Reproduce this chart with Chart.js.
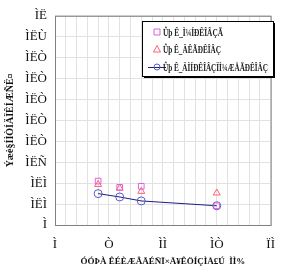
<!DOCTYPE html>
<html>
<head>
<meta charset="utf-8">
<script src="https://cdn.jsdelivr.net/npm/chart.js@4"></script>
<style>
  body { margin: 0; background: #fff; }
</style>
</head>
<body>
<canvas id="chart" width="287" height="268"></canvas>
<script>
// data (labels are shown garbled in the original, kept as is)
const xValues = [4, 6, 8, 15];
const seriesA = [0.21, 0.18, 0.185, 0.092];    // squares
const seriesB = [0.194, 0.176, 0.161, 0.153];  // triangles
const seriesC = [0.150, 0.134, 0.115, 0.092];  // circles + line
const seriesNames = ['Ûþ Ê_Ì¼ÍÐÊÎÂÇÃ', 'Ûþ Ê_ÄÊÃÐÊÎÂÇ', 'Ûþ Ê_ÄÌÍÐÊÎÂÇÏÌ¼ÆÅÃÐÊÎÂÇ'];
const xTickLabels = { 0: 'Ì', 5: 'Ò', 10: 'ÌÌ', 15: 'ÌÒ', 20: 'ÏÌ' };
const yTickLabels = ['Ì', 'ÌËÌ', 'ÌËÌ', 'ÌËÑ', 'ÌËÒ', 'ÌËÒ', 'ÌËÒ', 'ÌËÒ', 'ÌËÒ', 'ÌËÙ', 'ÌË'];
const xTitle = 'ÓÓÞÀ ÊÉÈÆÂÃÉÑÏ×Ã¥ÊÖÍÇÌÅ£Ú  ÌÌ%';
const yTitle = 'Ýæè§ÍÌÒÍÄÏÊÍÆÑË¤';

const pts = ys => xValues.map((x, i) => ({ x: x, y: ys[i] }));

// plot frame + boxed legend with shadow
const framePlugin = {
  id: 'frame',
  afterDatasetsDraw(chart) {
    const { ctx, chartArea: a } = chart;
    ctx.save();
    ctx.strokeStyle = '#808080';
    ctx.lineWidth = 1;
    ctx.strokeRect(a.left + 0.5, a.top + 0.5, a.right - a.left, a.bottom - a.top);

    // legend box
    const bx = 142, by = 21, bw = 131, bh = 55;
    ctx.fillStyle = '#000';
    ctx.fillRect(bx + 2, by + 2, bw, bh);
    ctx.fillStyle = '#fff';
    ctx.fillRect(bx, by, bw, bh);
    ctx.strokeStyle = '#000';
    ctx.strokeRect(bx + 0.5, by + 0.5, bw, bh);

    const rows = [32, 49, 67];
    const widths = [60, 58, 105];
    chart.data.datasets.forEach((ds, i) => {
      const cy = rows[i], cx = 157;
      ctx.strokeStyle = ds.borderColor;
      ctx.lineWidth = 1;
      if (ds.showLine) {
        ctx.strokeStyle = ds.lineColor;
        ctx.beginPath();
        ctx.moveTo(cx - 9, cy + 0.5);
        ctx.lineTo(cx + 9, cy + 0.5);
        ctx.stroke();
        ctx.strokeStyle = ds.borderColor;
      }
      ctx.beginPath();
      if (ds.pointStyle === 'rect') {
        ctx.rect(cx - 3, cy - 3, 6, 6);
      } else if (ds.pointStyle === 'triangle') {
        ctx.moveTo(cx, cy - 3.5); ctx.lineTo(cx + 3.5, cy + 3); ctx.lineTo(cx - 3.5, cy + 3); ctx.closePath();
      } else {
        ctx.arc(cx, cy, 3, 0, Math.PI * 2);
      }
      ctx.stroke();
      ctx.fillStyle = '#222';
      ctx.font = 'bold 11px "Liberation Serif"';
      ctx.textBaseline = 'middle';
      ctx.fillText(ds.label, 163, cy + 1, widths[i]);
    });
    ctx.restore();
  }
};

new Chart(document.getElementById('chart'), {
  type: 'scatter',
  data: {
    datasets: [
      { label: seriesNames[0], data: pts(seriesA), pointStyle: 'rect', pointRadius: 4,
        borderColor: '#e060e0', backgroundColor: 'transparent', borderWidth: 1 },
      { label: seriesNames[1], data: pts(seriesB), pointStyle: 'triangle', pointRadius: 4,
        borderColor: '#ff6070', backgroundColor: 'transparent', borderWidth: 1 },
      { label: seriesNames[2], data: pts(seriesC), pointStyle: 'circle', pointRadius: 4,
        borderColor: '#5a5ac8', backgroundColor: 'transparent', borderWidth: 1,
        showLine: true, lineColor: '#1c1c80',
        segment: { borderColor: '#1c1c80' } }
    ]
  },
  options: {
    responsive: false,
    animation: false,
    layout: { padding: { top: 7, right: 5, left: 0, bottom: 0 } },
    plugins: { legend: { display: false }, tooltip: { enabled: false } },
    scales: {
      x: {
        type: 'linear', min: 0, max: 20,
        border: { display: false },
        grid: { color: '#e2e2e2', drawTicks: false },
        ticks: {
          stepSize: 1, autoSkip: false, padding: 12, maxRotation: 0,
          color: '#111', font: { family: 'Liberation Serif', size: 13 },
          callback: v => (v in xTickLabels ? xTickLabels[v] : '')
        },
        title: {
          display: true, text: xTitle, color: '#111',
          font: { family: 'Liberation Serif', size: 9, weight: 'bold' },
          padding: { top: 0, bottom: 1 }
        },
        afterFit: s => { s.height = 43; }
      },
      y: {
        min: 0, max: 1,
        border: { display: false },
        grid: { color: '#e2e2e2', drawTicks: false },
        ticks: {
          stepSize: 0.1, padding: 8,
          color: '#111', font: { family: 'Liberation Serif', size: 13 },
          callback: (v, i) => yTickLabels[i]
        },
        title: {
          display: true, text: yTitle, color: '#111',
          font: { family: 'Liberation Serif', size: 10, weight: 'bold' },
          padding: { top: 4, bottom: 0 }
        },
        afterFit: s => { s.width = 55; }
      }
    }
  },
  plugins: [framePlugin]
});
</script>
</body>
</html>
